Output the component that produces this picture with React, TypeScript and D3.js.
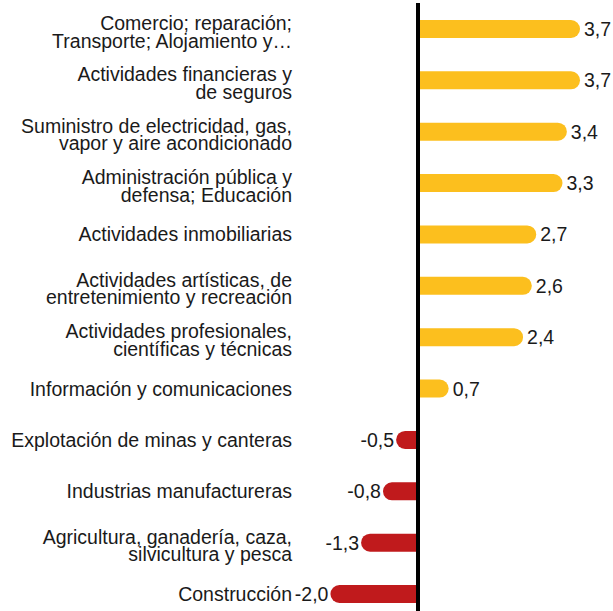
import { useEffect, useRef } from "react";
import * as d3 from "d3";

const categories = [
  "Comercio; reparación;\nTransporte; Alojamiento y…",
  "Actividades financieras y\nde seguros",
  "Suministro de electricidad, gas,\nvapor y aire acondicionado",
  "Administración pública y\ndefensa; Educación",
  "Actividades inmobiliarias",
  "Actividades artísticas, de\nentretenimiento y recreación",
  "Actividades profesionales,\ncientíficas y técnicas",
  "Información y comunicaciones",
  "Explotación de minas y canteras",
  "Industrias manufactureras",
  "Agricultura, ganadería, caza,\nsilvicultura y pesca",
  "Construcción",
];
const values = [3.7, 3.7, 3.4, 3.3, 2.7, 2.6, 2.4, 0.7, -0.5, -0.8, -1.3, -2.0];

const POS = "#fcbf1e";
const NEG = "#c01a1c";

export default function App() {
  const ref = useRef<SVGSVGElement>(null);

  useEffect(() => {
    const width = 613;
    const height = 611;
    const svg = d3.select(ref.current);
    svg.selectAll("*").remove();

    const x = d3.scaleLinear().domain([0, 3.7]).range([418, 580]);
    const y = d3.scalePoint<string>().domain(categories).range([29, 594]);
    const bh = 18;
    const r = bh / 2;
    const fmt = (v: number) => d3.format(".1f")(v).replace(".", ",").replace("−", "-");
    const data = categories.map((c, i) => ({ c, v: values[i] }));

    // rounded only on the outer end, flat against the zero line
    const barPath = (d: { c: string; v: number }) => {
      const x0 = x(0);
      const x1 = x(d.v);
      const cy = y(d.c)!;
      const top = cy - r;
      const bot = cy + r;
      if (d.v >= 0) {
        return `M${x0},${top}H${x1 - r}A${r},${r} 0 0 1 ${x1 - r},${bot}H${x0}Z`;
      }
      return `M${x0},${top}H${x1 + r}A${r},${r} 0 0 0 ${x1 + r},${bot}H${x0}Z`;
    };

    svg
      .append("g")
      .selectAll("path")
      .data(data)
      .join("path")
      .attr("d", barPath)
      .attr("fill", (d) => (d.v >= 0 ? POS : NEG));

    svg
      .append("line")
      .attr("x1", x(0))
      .attr("x2", x(0))
      .attr("y1", 3)
      .attr("y2", height)
      .attr("stroke", "#000")
      .attr("stroke-width", 4);

    svg
      .append("g")
      .selectAll("text")
      .data(data)
      .join("text")
      .attr("x", (d) => (d.v >= 0 ? x(d.v) + 4 : x(d.v) - 2))
      .attr("y", (d) => y(d.c)! + 7)
      .attr("text-anchor", (d) => (d.v >= 0 ? "start" : "end"))
      .attr("font-size", 19.5)
      .attr("fill", "#1a1a1a")
      .text((d) => fmt(d.v));

    const labels = svg
      .append("g")
      .selectAll("text")
      .data(data)
      .join("text")
      .attr("text-anchor", "end")
      .attr("font-size", 19.5)
      .attr("fill", "#1a1a1a");

    labels.each(function (d) {
      const lines = d.c.split("\n");
      const cy = y(d.c)!;
      const offs = lines.length === 1 ? [7] : [1, 18.5];
      d3.select(this)
        .selectAll("tspan")
        .data(lines)
        .join("tspan")
        .attr("x", 292)
        .attr("y", (_, i) => cy + offs[i])
        .text((t) => t);
    });

    svg.attr("width", width).attr("height", height);
  }, []);

  return (
    <svg
      ref={ref}
      style={{
        position: "absolute",
        left: 0,
        top: 0,
        fontFamily: "'Liberation Sans', Arial, sans-serif",
      }}
    />
  );
}
